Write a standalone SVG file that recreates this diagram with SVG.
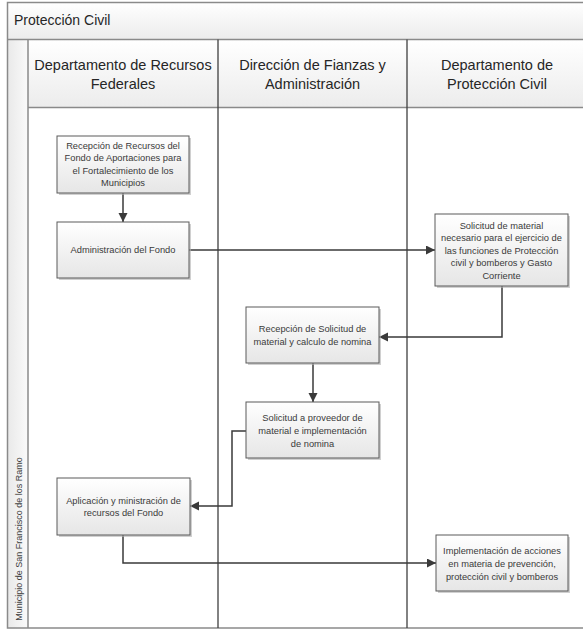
<svg xmlns="http://www.w3.org/2000/svg" width="583" height="629" viewBox="0 0 583 629">
<style>
.frame{fill:none;stroke:#8a8a8a;stroke-width:1.5}
.lane{stroke:#3f3f3f;stroke-width:1.3;fill:none}
.sep{stroke:#8a8a8a;stroke-width:1.5;fill:none}
.title{font-family:"Liberation Sans",Arial,sans-serif;font-size:14px;fill:#262626}
.hdr{font-family:"Liberation Sans",Arial,sans-serif;font-size:14.5px;fill:#262626;text-anchor:middle}
.pool{font-family:"Liberation Sans",Arial,sans-serif;font-size:9px;fill:#404040;text-anchor:middle}
.box{fill:url(#bg);stroke:#5a5a5a;stroke-width:1}
.shadow{fill:#b0b0b0;opacity:0.6}
.t{font-family:"Liberation Sans",Arial,sans-serif;font-size:9.3px;fill:#3a3a3a;text-anchor:middle}
.conn{fill:none;stroke:#3a3a3a;stroke-width:1.5;marker-end:url(#arr)}
</style>
<defs>
<linearGradient id="bg" x1="0" y1="0" x2="0" y2="1">
<stop offset="0" stop-color="#ffffff"/>
<stop offset="1" stop-color="#e6e6e6"/>
</linearGradient>
<linearGradient id="hg" x1="0" y1="0" x2="0" y2="1">
<stop offset="0" stop-color="#ffffff"/>
<stop offset="1" stop-color="#ececec"/>
</linearGradient>
<linearGradient id="pg" x1="0" y1="0" x2="1" y2="0">
<stop offset="0" stop-color="#e9e9e9"/>
<stop offset="1" stop-color="#fafafa"/>
</linearGradient>
<marker id="arr" markerUnits="userSpaceOnUse" markerWidth="10" markerHeight="10" refX="9" refY="4.5" orient="auto">
<path d="M0,0 L9,4.5 L0,9 Z" fill="#3a3a3a"/>
</marker>
</defs>

<g id="pool">
<rect x="7.5" y="2.5" width="580" height="37" fill="url(#hg)"/>
<rect x="7.5" y="39.5" width="20.5" height="589" fill="url(#pg)"/>
<rect x="28" y="39.5" width="560" height="68" fill="url(#hg)"/>
<rect x="28" y="108" width="560" height="520" fill="#ffffff"/>
<rect class="frame" x="7.5" y="2.5" width="580" height="625.5"/>
<line class="sep" x1="7.5" y1="39.5" x2="583" y2="39.5"/>
<line class="sep" x1="28" y1="39.5" x2="28" y2="628"/>
<line class="sep" x1="28" y1="107.5" x2="583" y2="107.5"/>
<line class="lane" x1="218" y1="39.5" x2="218" y2="628"/>
<line class="lane" x1="407" y1="39.5" x2="407" y2="628"/>
<text class="title" x="14" y="25">Protección Civil</text>
<text class="pool" transform="translate(21.5,539) rotate(-90)">Municipio de San Francisco de los Ramo</text>
</g>

<g id="lane-headers">
<text class="hdr" x="123" y="70">Departamento de Recursos</text>
<text class="hdr" x="123" y="89">Federales</text>
<text class="hdr" x="312.5" y="70">Dirección de Fianzas y</text>
<text class="hdr" x="312.5" y="89">Administración</text>
<text class="hdr" x="497" y="70">Departamento de</text>
<text class="hdr" x="497" y="89">Protección Civil</text>
</g>

<g id="connectors">
<path class="conn" d="M123,193 L123,222"/>
<path class="conn" d="M189,250 L435,250"/>
<path class="conn" d="M502,286 L502,337 L379,337"/>
<path class="conn" d="M313,363 L313,402"/>
<path class="conn" d="M246,431 L232,431 L232,506 L190,506"/>
<path class="conn" d="M123,535 L123,563 L436,563"/>
</g>

<g id="n1">
<rect class="shadow" x="59" y="138" width="132" height="57"/>
<rect class="box" x="57" y="136" width="132" height="57"/>
<text class="t" x="123" y="148.5">Recepción de Recursos del</text>
<text class="t" x="123" y="161">Fondo de Aportaciones para</text>
<text class="t" x="123" y="173.5">el Fortalecimiento de los</text>
<text class="t" x="123" y="186">Municipios</text>
</g>

<g id="n2">
<rect class="shadow" x="59" y="224" width="132" height="56"/>
<rect class="box" x="57" y="222" width="132" height="56"/>
<text class="t" x="123" y="252.5">Administración del Fondo</text>
</g>

<g id="n3">
<rect class="shadow" x="437" y="216" width="133" height="72"/>
<rect class="box" x="435" y="214" width="133" height="72"/>
<text class="t" x="501.5" y="228.5">Solicitud de material</text>
<text class="t" x="501.5" y="241">necesario para el ejercicio de</text>
<text class="t" x="501.5" y="253.5">las funciones de Protección</text>
<text class="t" x="501.5" y="266">civil y bomberos y Gasto</text>
<text class="t" x="501.5" y="278.5">Corriente</text>
</g>

<g id="n4">
<rect class="shadow" x="248" y="309" width="133" height="56"/>
<rect class="box" x="246" y="307" width="133" height="56"/>
<text class="t" x="312.5" y="331.5">Recepción de Solicitud de</text>
<text class="t" x="312.5" y="345">material y calculo de nomina</text>
</g>

<g id="n5">
<rect class="shadow" x="248" y="404" width="133" height="56"/>
<rect class="box" x="246" y="402" width="133" height="56"/>
<text class="t" x="312.5" y="420.5">Solicitud a proveedor de</text>
<text class="t" x="312.5" y="433.5">material e implementación</text>
<text class="t" x="312.5" y="446.5">de nomina</text>
</g>

<g id="n6">
<rect class="shadow" x="59" y="480" width="133" height="57"/>
<rect class="box" x="57" y="478" width="133" height="57"/>
<text class="t" x="123.5" y="503.5">Aplicación y ministración de</text>
<text class="t" x="123.5" y="516">recursos del Fondo</text>
</g>

<g id="n7">
<rect class="shadow" x="438" y="537" width="132" height="56"/>
<rect class="box" x="436" y="535" width="132" height="56"/>
<text class="t" x="502" y="553.5">Implementación de acciones</text>
<text class="t" x="502" y="566.5">en materia de prevención,</text>
<text class="t" x="502" y="579.5">protección civil y bomberos</text>
</g>
</svg>
